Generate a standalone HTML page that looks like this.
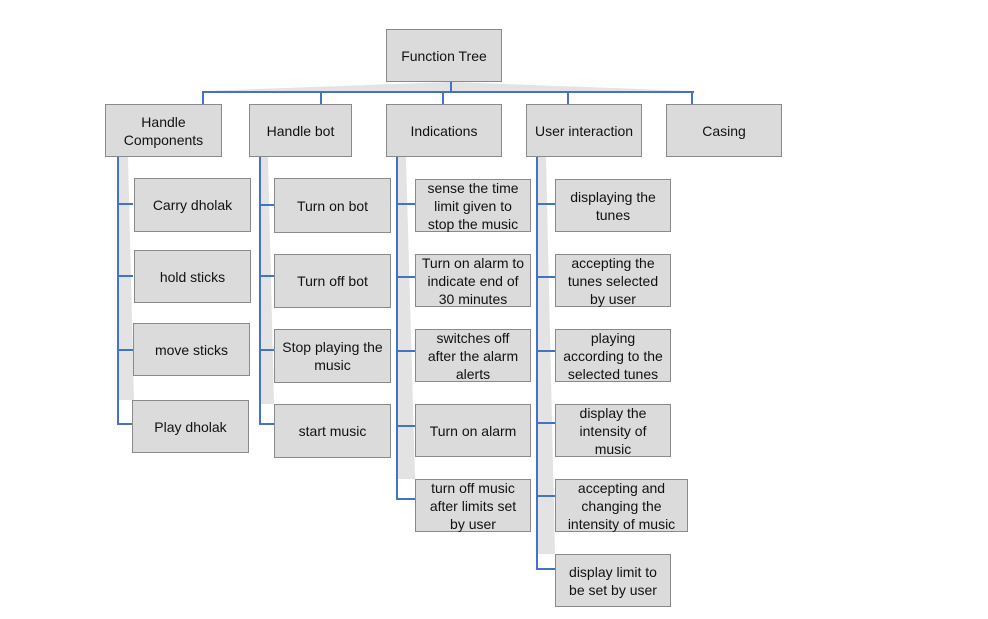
<!DOCTYPE html>
<html><head><style>
body{margin:0;width:988px;height:619px;background:#fff;position:relative;overflow:hidden;font-family:"Liberation Sans",sans-serif;}
.b{position:absolute;box-sizing:border-box;background:#dbdbdb;border:1px solid #8a8a8a;display:flex;align-items:center;justify-content:center;text-align:center;font-size:14px;line-height:18px;color:#111;}
.l{position:absolute;background:#4472c4;}
svg{position:absolute;left:0;top:0;}
</style></head><body>
<svg width="988" height="619">
<g fill="#e3e3e3">
<polygon points="119,157 128,157 134,400 119,400"/>
<polygon points="261,157 268,157 274,404 261,404"/>
<polygon points="398,157 406,157 415,479 398,479"/>
<polygon points="538,157 546,157 555,554 538,554"/>
<polygon points="204,91 450,82 452,91"/>
<polygon points="452,82 692,91 452,91"/>
</g>
</svg>
<!-- connectors -->
<div class="l" style="left:450px;top:81px;width:2px;height:12px"></div>
<div class="l" style="left:202px;top:91px;width:492px;height:2px"></div>
<div class="l" style="left:202px;top:91px;width:2px;height:13px"></div>
<div class="l" style="left:320px;top:91px;width:2px;height:13px"></div>
<div class="l" style="left:442px;top:91px;width:2px;height:13px"></div>
<div class="l" style="left:567px;top:91px;width:2px;height:13px"></div>
<div class="l" style="left:691px;top:91px;width:2px;height:13px"></div>

<div class="l" style="left:117px;top:156px;width:2px;height:269px"></div>
<div class="l" style="left:117px;top:203px;width:16px;height:2px"></div>
<div class="l" style="left:117px;top:275px;width:16px;height:2px"></div>
<div class="l" style="left:117px;top:349px;width:16px;height:2px"></div>
<div class="l" style="left:117px;top:423px;width:16px;height:2px"></div>

<div class="l" style="left:259px;top:156px;width:2px;height:269px"></div>
<div class="l" style="left:259px;top:204px;width:15px;height:2px"></div>
<div class="l" style="left:259px;top:275px;width:15px;height:2px"></div>
<div class="l" style="left:259px;top:349px;width:15px;height:2px"></div>
<div class="l" style="left:259px;top:423px;width:15px;height:2px"></div>

<div class="l" style="left:396px;top:156px;width:2px;height:344px"></div>
<div class="l" style="left:396px;top:203px;width:19px;height:2px"></div>
<div class="l" style="left:396px;top:276px;width:19px;height:2px"></div>
<div class="l" style="left:396px;top:350px;width:19px;height:2px"></div>
<div class="l" style="left:396px;top:425px;width:19px;height:2px"></div>
<div class="l" style="left:396px;top:498px;width:19px;height:2px"></div>

<div class="l" style="left:536px;top:156px;width:2px;height:414px"></div>
<div class="l" style="left:536px;top:203px;width:19px;height:2px"></div>
<div class="l" style="left:536px;top:276px;width:19px;height:2px"></div>
<div class="l" style="left:536px;top:350px;width:19px;height:2px"></div>
<div class="l" style="left:536px;top:422px;width:19px;height:2px"></div>
<div class="l" style="left:536px;top:495px;width:19px;height:2px"></div>
<div class="l" style="left:536px;top:568px;width:19px;height:2px"></div>

<!-- boxes -->
<div class="b" style="left:386px;top:29px;width:116px;height:53px">Function Tree</div>
<div class="b" style="left:105px;top:104px;width:117px;height:53px">Handle<br>Components</div>
<div class="b" style="left:249px;top:104px;width:103px;height:53px">Handle bot</div>
<div class="b" style="left:386px;top:104px;width:116px;height:53px">Indications</div>
<div class="b" style="left:526px;top:104px;width:116px;height:53px">User interaction</div>
<div class="b" style="left:666px;top:104px;width:116px;height:53px">Casing</div>

<div class="b" style="left:134px;top:178px;width:117px;height:54px">Carry dholak</div>
<div class="b" style="left:134px;top:250px;width:117px;height:53px">hold sticks</div>
<div class="b" style="left:133px;top:323px;width:117px;height:53px">move sticks</div>
<div class="b" style="left:132px;top:400px;width:117px;height:53px">Play dholak</div>

<div class="b" style="left:274px;top:178px;width:117px;height:55px">Turn on bot</div>
<div class="b" style="left:274px;top:254px;width:117px;height:54px">Turn off bot</div>
<div class="b" style="left:274px;top:329px;width:117px;height:54px">Stop playing the<br>music</div>
<div class="b" style="left:274px;top:404px;width:117px;height:54px">start music</div>

<div class="b" style="left:415px;top:179px;width:116px;height:53px">sense the time<br>limit given to<br>stop the music</div>
<div class="b" style="left:415px;top:254px;width:116px;height:53px">Turn on alarm to<br>indicate end of<br>30 minutes</div>
<div class="b" style="left:415px;top:329px;width:116px;height:53px">switches off<br>after the alarm<br>alerts</div>
<div class="b" style="left:415px;top:404px;width:116px;height:53px">Turn on alarm</div>
<div class="b" style="left:415px;top:479px;width:116px;height:53px">turn off music<br>after limits set<br>by user</div>

<div class="b" style="left:555px;top:179px;width:116px;height:53px">displaying the<br>tunes</div>
<div class="b" style="left:555px;top:254px;width:116px;height:53px">accepting the<br>tunes selected<br>by user</div>
<div class="b" style="left:555px;top:329px;width:116px;height:53px">playing<br>according to the<br>selected tunes</div>
<div class="b" style="left:555px;top:404px;width:116px;height:53px">display the<br>intensity of<br>music</div>
<div class="b" style="left:555px;top:479px;width:133px;height:53px">accepting and<br>changing the<br>intensity of music</div>
<div class="b" style="left:555px;top:554px;width:116px;height:53px">display limit to<br>be set by user</div>
</body></html>
